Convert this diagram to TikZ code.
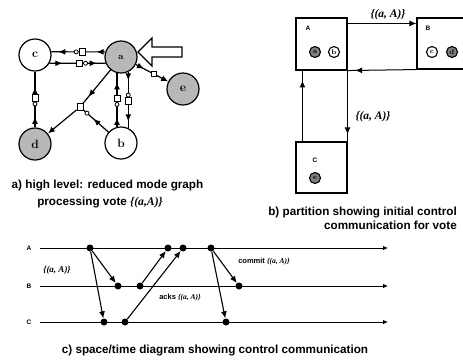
\documentclass[tikz,border=0pt]{standalone}
\usepackage{fontspec}
\setsansfont{Liberation Sans}
\newfontfamily\capfont{Liberation Sans}
\newfontfamily\timesfont{Liberation Serif}
\usetikzlibrary{arrows.meta,decorations.markings}
\tikzset{
  mytip/.tip={Latex[length=7pt,width=6pt]},
  smtip/.tip={Latex[length=5pt,width=4.5pt]},
  am/.style={postaction={decorate,decoration={markings,mark=at position #1 with {\arrow{mytip}}}}},
  gnode/.style={circle,draw,line width=1.2pt,minimum size=32pt,inner sep=0pt,font=\bfseries\large},
  shadedfill/.style={fill=black!28},
  msq/.style={rectangle,draw,line width=0.9pt,fill=white,minimum width=6pt,minimum height=6.5pt,inner sep=0pt},
  mcirc/.style={circle,draw,line width=0.8pt,fill=white,minimum size=4pt,inner sep=0pt},
  gedge/.style={line width=1.2pt},
  pbox/.style={draw,line width=1.1pt,inner sep=0pt,minimum width=51pt,minimum height=52pt},
  blab/.style={font=\sffamily\bfseries\fontsize{6.5}{7}\selectfont,inner sep=0pt},
  mini/.style={circle,draw,line width=1.1pt,minimum size=11pt,inner sep=0pt,font=\bfseries\fontsize{7}{8}\selectfont},
  dark/.style={fill=black!50},
  parr/.style={line width=1pt},
  vlab/.style={font=\timesfont\bfseries\itshape\fontsize{11.5}{12}\selectfont,inner sep=0pt},
  tlab/.style={font=\sffamily\bfseries\fontsize{6.5}{7}\selectfont,inner sep=0pt},
  tline/.style={line width=0.8pt,-{smtip}},
  dot/.style={circle,fill,inner sep=0pt,minimum size=7pt},
  carr/.style={line width=1.1pt,-{mytip}},
  slab/.style={font=\sffamily\bfseries\fontsize{7.5}{8}\selectfont,inner sep=0pt},
  itlab/.style={font=\timesfont\bfseries\itshape\fontsize{9}{10}\selectfont,inner sep=0pt},
  captext/.style={font=\capfont\bfseries\fontsize{11.7}{13}\selectfont,inner sep=0pt},
}
\begin{document}
\begin{tikzpicture}[x=1pt,y=-1pt]
\useasboundingbox (0,0) rectangle (463,360);
% ---------- panel a ----------
\node[gnode] (c) at (35,55) {c};
\node[gnode,shadedfill] (a) at (121,57) {\small a};
\node[gnode,shadedfill] (e) at (183,89) {e};
\node[gnode,shadedfill] (d) at (35,144) {d};
\node[gnode] (b) at (121,143) {b};
\node[msq] (j) at (80,107) {};
% a -> c (top)
\draw[gedge,am=0.16,am=0.87] (a.162) -- node[msq,pos=0.43] (s1) {} (c.11);
\node[mcirc,anchor=east] (k1) at (s1.west) {};
% c -> a (bottom)
\draw[gedge,am=0.23,am=0.84] (c.-30) -- node[msq,pos=0.54] (s2) {} (a.202);
\node[mcirc,anchor=west] (k2) at (s2.east) {};
% d -> c
\draw[gedge,am=0.19,am=0.72] (d.north) -- node[msq,pos=0.53] (s3) {} (c.south);
\node[mcirc,anchor=north] (k3) at (s3.south) {};
% b -> a
\draw[gedge,am=0.17,am=0.83] (b.104) -- node[msq,pos=0.53] (s4) {} (a.256);
\node[mcirc,anchor=north] (k4) at (s4.south) {};
% a -> b
\draw[gedge,am=0.15,am=0.88] (a.-64) -- node[msq,pos=0.52] (s5) {} (b.64);
\node[mcirc,anchor=south] (k5) at (s5.north) {};
% junction
\draw[gedge,am=0.8] (a.231) -- (j);
\draw[gedge,-{mytip}] (j) -- (d.39);
\draw[gedge,am=0.6] (b.139) -- node[mcirc,pos=0.86] (k6) {} (j);
% a -> e
\draw[gedge,am=0.25,-{mytip}] (a.-27) -- node[msq,pos=0.56,minimum width=5pt,minimum height=5pt] (s7) {} (e.153);
% hollow input arrow
\draw[line width=1.1pt,fill=white] (138,52) -- (152,38) -- (152,47) -- (182,47) -- (182,57) -- (152,57) -- (152,66) -- cycle;
\node[captext] (ca1) at (107.5,185) {a) high level: reduced mode graph};
\node[captext] (ca2) at (100,202) {processing vote {\timesfont\itshape\{(a,A)\}}};
% ---------- panel b ----------
\node[pbox] (PA) at (321.5,44) {};
\node[pbox,minimum width=58pt,minimum height=51pt] (PB) at (446,43.5) {};
\node[pbox,minimum height=51pt] (PC) at (321.5,167.5) {};
\node[blab] (tA) at (308,28) {A};
\node[blab] (tB) at (428,28) {B};
\node[blab] (tC) at (315,160) {C};
\node[mini,dark] (pa) at (315,52) {a};
\node[mini] (pb) at (334,52) {b};
\node[mini] (pc) at (432,52) {c};
\node[mini,dark] (pd) at (452,52) {d};
\node[mini,dark] (pe) at (315,178) {e};
\draw[parr,-{mytip}] ([yshift=-6pt]PA.north east) -- ([yshift=-6pt]PB.north west);
\draw[parr,am=0.89] (PB.south west) -- (PA.south east);
\draw[parr,am=0.9] (PA.south east) -- (PC.north east);
\draw[parr,am=0.86] ([xshift=7pt]PC.north west) -- ([xshift=7pt]PA.south west);
\node[vlab] (l1) at (388,15) {\{(a, A)\}};
\node[vlab] (l2) at (373,117) {\{(a, A)\}};
\node[captext,anchor=east] (cb1) at (457,212) {b) partition showing initial control};
\node[captext,anchor=east] (cb2) at (457,225) {communication for vote};
% ---------- panel c ----------
\node[tlab] (tlA) at (29,248) {A};
\node[tlab] (tlB) at (29,286) {B};
\node[tlab] (tlC) at (29,322) {C};
\coordinate (sA) at (40,248); \coordinate (eA) at (388,248);
\coordinate (sB) at (40,286); \coordinate (eB) at (388,286);
\coordinate (sC) at (40,322); \coordinate (eC) at (388,322);
\draw[tline] (sA) -- (eA);
\draw[tline] (sB) -- (eB);
\draw[tline] (sC) -- (eC);
\node[dot] (A1) at (90,248) {};
\node[dot] (A2) at (168,248) {};
\node[dot] (A3) at (183,248) {};
\node[dot] (A4) at (211,248) {};
\node[dot] (B1) at (118,286) {};
\node[dot] (B2) at (140,286) {};
\node[dot] (B3) at (239,286) {};
\node[dot] (C1) at (104,322) {};
\node[dot] (C2) at (125,322) {};
\node[dot] (C3) at (226,322) {};
\draw[carr] (A1) -- (B1);
\draw[carr] (A1) -- (C1);
\draw[carr] (B2) -- (A2);
\draw[carr] (C2) -- (A3);
\draw[carr] (A4) -- (B3);
\draw[carr] (A4) -- (C3);
\node[itlab] (m1) at (57,270) {\{(a, A)\}};
\node[slab] (m2) at (180,298) {acks {\timesfont\itshape\{(a, A)\}}};
\node[slab] (m3) at (264,262) {commit {\timesfont\itshape\{(a, A)\}}};
\node[captext] (cc) at (215,350) {c) space/time diagram showing control communication};
\end{tikzpicture}
\end{document}
